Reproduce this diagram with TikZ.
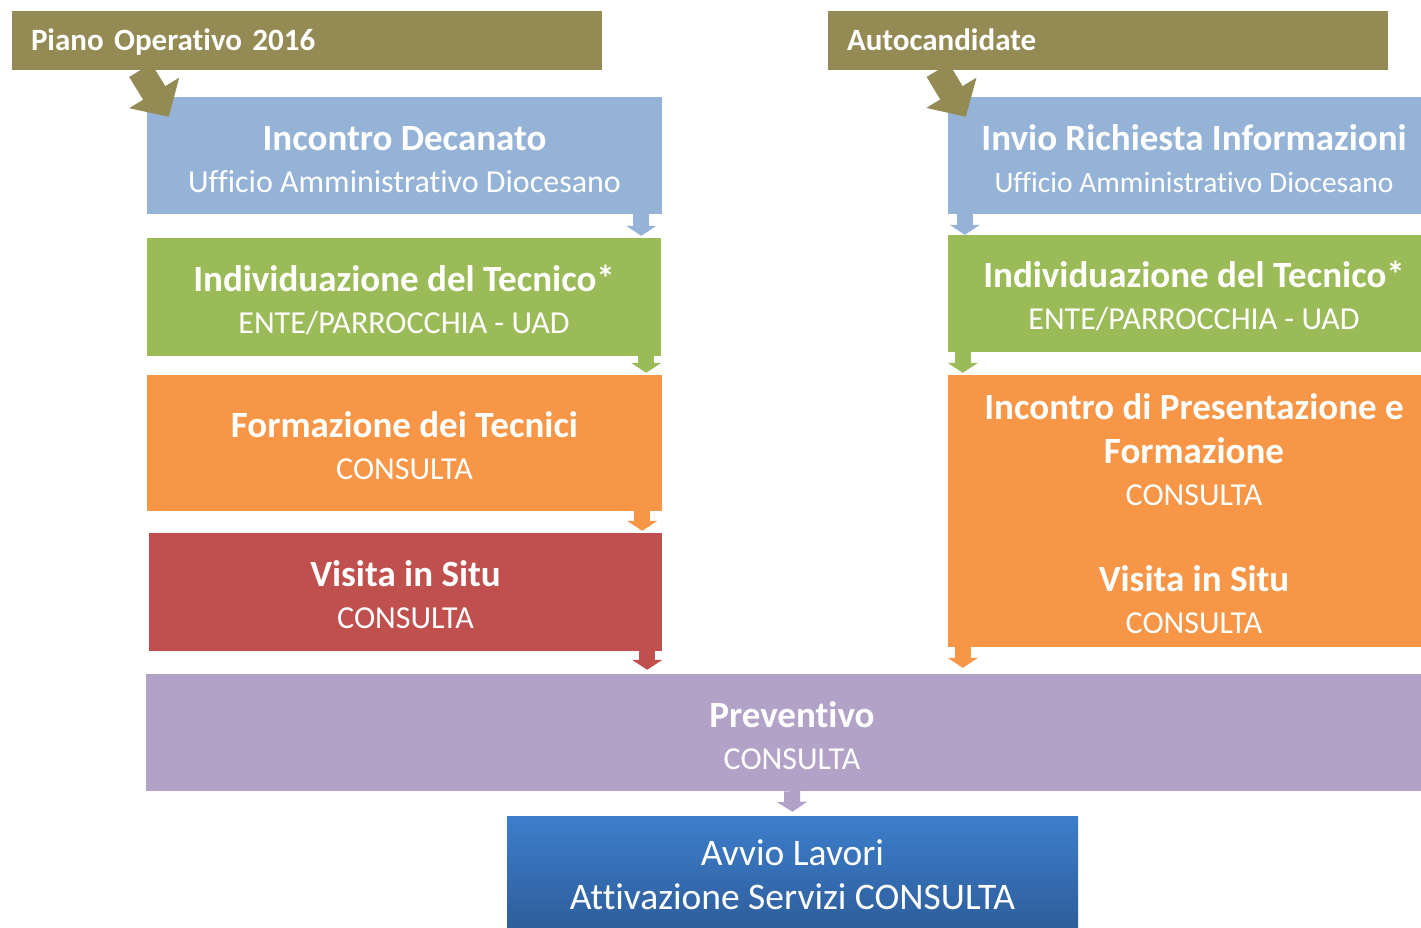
\documentclass[tikz,border=0pt]{standalone}
\usepackage{fontspec}
\setmainfont{Carlito}[Ligatures=NoCommon]
\usetikzlibrary{arrows.meta}

\definecolor{olivebar}{HTML}{948A54}
\definecolor{stepblue}{HTML}{95B3D7}
\definecolor{stepgreen}{HTML}{9BBB59}
\definecolor{steporange}{HTML}{F79646}
\definecolor{stepred}{HTML}{C0504D}
\definecolor{steppurple}{HTML}{B2A2C7}
\definecolor{avviotop}{HTML}{3D7ECC}
\definecolor{avviobot}{HTML}{2E5E9B}

\newcommand{\ttl}[1]{{\bfseries\fontsize{37}{42}\selectfont\rule{0pt}{32pt}#1}}

\tikzset{
  hdr/.style={fill=olivebar, text=white, font=\bfseries\fontsize{31}{34}\selectfont,
    inner xsep=19pt, inner ysep=0pt, minimum height=59pt, text height=28pt, text depth=7pt,
    align=left},
  blk/.style={inner sep=0pt, text=white, align=center,
    font=\fontsize{32}{42}\selectfont},
  stp/.style={line width=16pt, shorten >=2pt, -{Triangle[width=30pt,length=10pt]}},
  bent/.style={olivebar, line width=26pt, -{Triangle[width=57pt,length=28pt]}}
}

\begin{document}
\begin{tikzpicture}[x=1pt, y=-1pt]
  \useasboundingbox (0,0) rectangle (1421,928);
  \clip (0,0) rectangle (1421,928);

  % headers
  \node[hdr, text width=552pt] (hdrL) at (307,40.5) {Piano Operativo 2016};
  \node[hdr, text width=522pt] (hdrR) at (1108,40.5) {Autocandidate};

  % left column
  \node[blk, fill=stepblue, minimum width=515pt, minimum height=117pt] (decanato) at (404.5,155.5)
    {\ttl{Incontro Decanato}\\ Ufficio Amministrativo Diocesano};
  \node[blk, fill=stepgreen, minimum width=514pt, minimum height=118pt] (tecnicoL) at (404,297)
    {\ttl{Individuazione del Tecnico*}\\ ENTE/PARROCCHIA - UAD};
  \node[blk, fill=steporange, minimum width=515pt, minimum height=136pt] (formazione) at (404.5,443)
    {\ttl{Formazione dei Tecnici}\\ CONSULTA};
  \node[blk, fill=stepred, minimum width=513pt, minimum height=118pt] (visita) at (405.5,592)
    {\ttl{Visita in Situ}\\ CONSULTA};

  % right column
  \node[blk, fill=stepblue, minimum width=492pt, minimum height=117pt] (invio) at (1194,155.5)
    {\ttl{Invio Richiesta Informazioni}\\ {\fontsize{29.5}{42}\selectfont Ufficio Amministrativo Diocesano}};
  \node[blk, fill=stepgreen, minimum width=492pt, minimum height=117pt] (tecnicoR) at (1194,293.5)
    {\ttl{Individuazione del Tecnico*}\\ ENTE/PARROCCHIA - UAD};
  \node[blk, fill=steporange, minimum width=492pt, minimum height=272pt] (presentazione) at (1194,511)
    {\ttl{Incontro di Presentazione e}\\[2pt] \ttl{Formazione}\\ CONSULTA\\[44pt]
     \ttl{Visita in Situ}\\ CONSULTA};

  % bottom
  \node[blk, fill=steppurple, minimum width=1292pt, minimum height=117pt] (preventivo) at (792,732.5)
    {\ttl{Preventivo}\\ CONSULTA};
  \node[blk, top color=avviotop, bottom color=avviobot, minimum width=571pt, minimum height=112pt,
    font=\fontsize{37.5}{44}\selectfont] (avvio) at (792.5,872)
    {\rule{0pt}{32pt}Avvio Lavori\\ Attivazione Servizi CONSULTA};

  % bent arrows from the headers
  \draw[bent] ([xshift=128.5pt]hdrL.south west) -- ([xshift=22pt,yshift=-20pt]decanato.north west);
  \draw[bent] ([xshift=110pt]hdrR.south west) -- ([xshift=18pt,yshift=-20pt]invio.north west);

  % step arrows
  \draw[stp, stepblue] ([xshift=-21pt]decanato.south east) -- ([xshift=-21pt]decanato.south east |- tecnicoL.north);
  \draw[stp, stepgreen] ([xshift=-15pt]tecnicoL.south east) -- ([xshift=-15pt]tecnicoL.south east |- formazione.north);
  \draw[stp, steporange] ([xshift=-20pt]formazione.south east) -- ([xshift=-20pt]formazione.south east |- visita.north);
  \draw[stp, stepred, shorten >=4pt] ([xshift=-15pt]visita.south east) -- ([xshift=-15pt]visita.south east |- preventivo.north);
  \draw[stp, stepblue, shorten >=0pt] ([xshift=17pt]invio.south west) -- ([xshift=17pt]invio.south west |- tecnicoR.north);
  \draw[stp, stepgreen] ([xshift=15pt]tecnicoR.south west) -- ([xshift=15pt]tecnicoR.south west |- presentazione.north);
  \draw[stp, steporange, shorten >=6pt] ([xshift=15pt]presentazione.south west) -- ([xshift=15pt]presentazione.south west |- preventivo.north);
  \draw[stp, steppurple, shorten >=4pt] (preventivo.south) -- (avvio.north);
\end{tikzpicture}
\end{document}
